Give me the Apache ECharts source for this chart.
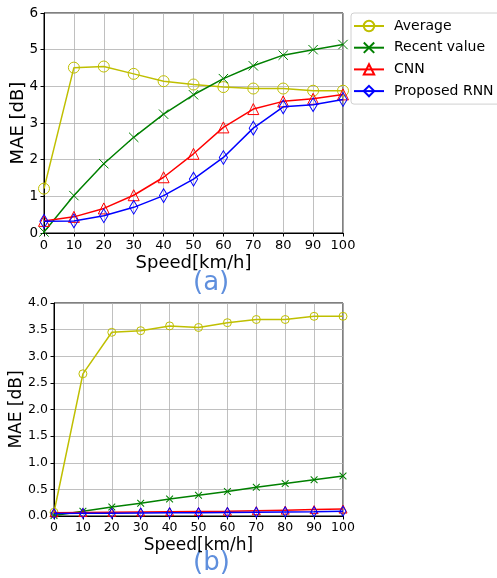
<!DOCTYPE html>
<html><head><meta charset="utf-8">
<script src="https://cdn.jsdelivr.net/npm/echarts@6/dist/echarts.min.js"></script>
<style>html,body{margin:0;padding:0;background:#fff}#c{width:497px;height:578px}</style>
</head><body><div id="c"></div>
<script>
const speeds = [0,10,20,30,40,50,60,70,80,90,100];
const seriesNames = ['Average','Recent value','CNN','Proposed RNN'];
// Chart (a)
const avgA = [1.21,4.51,4.54,4.34,4.14,4.05,3.98,3.94,3.94,3.88,3.88];
const recentA = [0.03,1.02,1.89,2.61,3.24,3.77,4.21,4.56,4.85,5.0,5.14];
const cnnA = [0.33,0.44,0.67,1.03,1.52,2.16,2.88,3.38,3.59,3.66,3.78];
const rnnA = [0.32,0.33,0.47,0.70,1.02,1.47,2.06,2.86,3.44,3.50,3.64];
// Chart (b)
const avgB = [0.07,2.67,3.45,3.48,3.57,3.54,3.63,3.69,3.69,3.75,3.75];
const recentB = [0.01,0.09,0.17,0.24,0.32,0.39,0.46,0.54,0.61,0.68,0.75];
const cnnB = [0.06,0.065,0.07,0.075,0.08,0.085,0.09,0.10,0.11,0.12,0.13];
const rnnB = [0.045,0.05,0.05,0.055,0.06,0.06,0.065,0.07,0.075,0.08,0.09];
const yTicksA = [0,1,2,3,4,5,6];
const yTicksB = [0,0.5,1,1.5,2,2.5,3,3.5,4];

const colors = ['#bfbf00','#008000','#ff0000','#0000ff'];
const xSym = 'path://M0,0L10,10M10,0L0,10';
const symbols = ['circle', xSym, 'triangle', 'diamond'];
const dataA = [avgA, recentA, cnnA, rnnA];
const dataB = [avgB, recentB, cnnB, rnnB];

function mk(i, arr, gi, size){
  const isX = i === 1;
  return {
    name: seriesNames[i], type: 'line', xAxisIndex: gi, yAxisIndex: gi,
    data: speeds.map((s,k)=>[s, arr[k]]),
    symbol: symbols[i],
    symbolSize: i===3 ? [size*0.75, size*1.25] : (isX ? size*0.85 : size),
    showSymbol: true, animation: false,
    lineStyle: {color: colors[i], width: 1.5},
    itemStyle: {color: 'rgba(255,255,255,0)', borderColor: colors[i], borderWidth: 1},
    emphasis: {disabled: true},
    z: 2 + i
  };
}
const series = [];
for (let i=0;i<4;i++) series.push(mk(i, dataA[i], 0, 11));
for (let i=0;i<4;i++) series.push(mk(i, dataB[i], 1, 8));

function xAx(gi, fs, gap, nfs, margin){
  return {
    type: 'value', gridIndex: gi, min: 0, max: 100, interval: 10,
    name: 'Speed[km/h]', nameLocation: 'middle', nameGap: gap, nameMoveOverlap: false,
    nameTextStyle: {fontFamily: 'DejaVu Sans', fontSize: nfs, color: '#000'},
    axisLine: {show: true, onZero: false, lineStyle: {color: '#000', width: 1}},
    axisTick: {show: true, inside: false, length: 3.5, lineStyle: {color: '#000'}},
    axisLabel: {fontFamily: 'DejaVu Sans', fontSize: fs, color: '#000', margin: margin},
    splitLine: {show: true, lineStyle: {color: '#b0b0b0', width: 0.8}}
  };
}
function yAx(gi, fs, gap, nfs, max, interval, dec){
  return {
    type: 'value', gridIndex: gi, min: 0, max: max, interval: interval,
    name: 'MAE [dB]', nameLocation: 'middle', nameGap: gap, nameRotate: 90, nameMoveOverlap: false,
    nameTextStyle: {fontFamily: 'DejaVu Sans', fontSize: nfs, color: '#000'},
    axisLine: {show: true, lineStyle: {color: '#000', width: 1}},
    axisTick: {show: true, inside: false, length: 3.5, lineStyle: {color: '#000'}},
    axisLabel: {fontFamily: 'DejaVu Sans', fontSize: fs, color: '#000', margin: 6,
      formatter: v => v.toFixed(dec)},
    splitLine: {show: true, lineStyle: {color: '#b0b0b0', width: 0.8}}
  };
}

const chart = echarts.init(document.getElementById('c'), null, {renderer: 'canvas'});
chart.setOption({
  animation: false,
  backgroundColor: '#fff',
  grid: [
    {left: 44, top: 13, width: 299, height: 220, show: true, borderColor: '#000', borderWidth: 1, containLabel: false, outerBoundsMode: 'none'},
    {left: 54, top: 303, width: 289, height: 213, show: true, borderColor: '#000', borderWidth: 1, containLabel: false, outerBoundsMode: 'none'}
  ],
  xAxis: [xAx(0, 13, 21, 18, 6), xAx(1, 12.5, 21, 17, 5)],
  yAxis: [yAx(0, 13.5, 17, 18, 6, 1, 0), yAx(1, 12.5, 29, 17, 4, 0.5, 1)],
  legend: {
    orient: 'vertical', left: 351, top: 13,
    data: seriesNames,
    itemWidth: 30, itemHeight: 13, itemGap: 7.7,
    padding: [6, 8, 6, 2],
    borderColor: '#d0d0d0', borderWidth: 1, borderRadius: 3,
    backgroundColor: '#fff',
    textStyle: {fontFamily: 'DejaVu Sans', fontSize: 14, color: '#000', padding: [0, 0, 0, 5]},
    selectedMode: false
  },
  graphic: [
    {type: 'text', left: 193, top: 270, style: {text: '(a)', fontFamily: 'DejaVu Sans', fontSize: 26, fill: '#5f8fdd', textAlign: 'center'}},
    {type: 'text', left: 193, top: 550, style: {text: '(b)', fontFamily: 'DejaVu Sans', fontSize: 26, fill: '#5f8fdd', textAlign: 'center'}}
  ],
  series: series
});
</script></body></html>
